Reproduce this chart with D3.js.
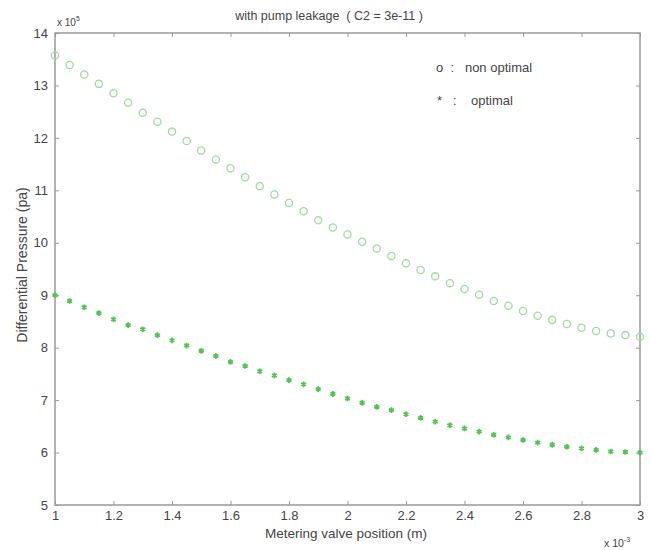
<!DOCTYPE html>
<html>
<head>
<meta charset="utf-8">
<script src="https://cdn.jsdelivr.net/npm/d3@7"></script>
<style>
  body { margin: 0; background: #fff; }
  svg text { font-family: "Liberation Sans", Arial, sans-serif; fill: #444; }
</style>
</head>
<body>
<svg id="chart" width="651" height="550"></svg>
<script>
// metering valve position, x 10^-3 m
const positions = d3.range(41).map((i) => 1 + i * 0.05);
// differential pressure, x 10^5 pa
const nonOptimal = [13.57, 13.39, 13.21, 13.03, 12.85, 12.67, 12.48, 12.31, 12.12, 11.94,
  11.76, 11.59, 11.42, 11.25, 11.08, 10.92, 10.76, 10.60, 10.43, 10.29,
  10.16, 10.02, 9.89, 9.75, 9.61, 9.48, 9.36, 9.23, 9.12, 9.01,
  8.89, 8.80, 8.70, 8.61, 8.53, 8.45, 8.38, 8.32, 8.27, 8.24, 8.21];
const optimal = [9.00, 8.89, 8.77, 8.66, 8.54, 8.43, 8.35, 8.24, 8.14, 8.04,
  7.94, 7.84, 7.73, 7.65, 7.55, 7.47, 7.38, 7.30, 7.21, 7.12,
  7.03, 6.95, 6.87, 6.81, 6.73, 6.66, 6.59, 6.52, 6.46, 6.40,
  6.34, 6.29, 6.24, 6.19, 6.15, 6.11, 6.08, 6.05, 6.02, 6.01, 6.00];
const xTicks = [1, 1.2, 1.4, 1.6, 1.8, 2, 2.2, 2.4, 2.6, 2.8, 3];
const yTicks = [5, 6, 7, 8, 9, 10, 11, 12, 13, 14];

const svg = d3.select('#chart');
const plot = { left: 55, right: 640, top: 33, bottom: 505 };
const x = d3.scaleLinear().domain([1, 3]).range([plot.left, plot.right]);
const y = d3.scaleLinear().domain([5, 14]).range([plot.bottom, plot.top]);
const axisColor = '#999';

const styleAxis = (g) => {
  g.select('.domain').remove();
  g.selectAll('.tick line').attr('stroke', axisColor);
  g.selectAll('.tick text').attr('font-size', 13).attr('fill', '#555');
};

svg.append('g').attr('transform', `translate(0,${plot.bottom})`)
  .call(d3.axisBottom(x).tickValues(xTicks).tickFormat(d3.format('~g')).tickSizeInner(-4).tickSizeOuter(0).tickPadding(6))
  .call(styleAxis);
svg.append('g').attr('transform', `translate(${plot.left},0)`)
  .call(d3.axisLeft(y).tickValues(yTicks).tickFormat(d3.format('~g')).tickSizeInner(-4).tickSizeOuter(0).tickPadding(7))
  .call(styleAxis);
svg.append('g').attr('transform', `translate(0,${plot.top})`)
  .call(d3.axisTop(x).tickValues(xTicks).tickFormat('').tickSizeInner(-4).tickSizeOuter(0))
  .call(styleAxis);
svg.append('g').attr('transform', `translate(${plot.right},0)`)
  .call(d3.axisRight(y).tickValues(yTicks).tickFormat('').tickSizeInner(-4).tickSizeOuter(0))
  .call(styleAxis);

svg.append('rect').attr('x', plot.left).attr('y', plot.top)
  .attr('width', plot.right - plot.left).attr('height', plot.bottom - plot.top)
  .attr('fill', 'none').attr('stroke', axisColor).attr('stroke-width', 1.5);

svg.append('g').selectAll('circle').data(nonOptimal).join('circle')
  .attr('cx', (d, i) => x(positions[i])).attr('cy', (d) => y(d)).attr('r', 3.6)
  .attr('fill', 'none').attr('stroke', '#a3d8a3').attr('stroke-width', 1.3);

const star = d3.symbol().type(d3.symbolAsterisk).size(22);
svg.append('g').selectAll('path').data(optimal).join('path')
  .attr('transform', (d, i) => `translate(${x(positions[i])},${y(d)})`)
  .attr('d', star).attr('fill', 'none').attr('stroke', '#52c452').attr('stroke-width', 1.8);

svg.append('text').attr('x', 329).attr('y', 20).attr('text-anchor', 'middle').attr('font-size', 12.5)
  .attr('xml:space', 'preserve').text('with pump leakage  ( C2 = 3e-11 )');

const exp = svg.append('text').attr('x', 57).attr('y', 26).attr('font-size', 10);
exp.append('tspan').text('x 10');
exp.append('tspan').attr('dy', -5).attr('font-size', 7).text('5');

const expX = svg.append('text').attr('x', 604).attr('y', 547).attr('font-size', 10.5);
expX.append('tspan').text('x 10');
expX.append('tspan').attr('dy', -5).attr('font-size', 7).text('-3');

svg.append('text').attr('x', 346).attr('y', 538).attr('text-anchor', 'middle').attr('font-size', 13.5)
  .text('Metering valve position (m)');
svg.append('text').attr('transform', 'translate(27,265) rotate(-90)').attr('text-anchor', 'middle').attr('font-size', 14)
  .text('Differential Pressure (pa)');

// legend
svg.append('text').attr('x', 436).attr('y', 72).attr('font-size', 13).attr('xml:space', 'preserve').text('o  :   non optimal');
svg.append('text').attr('x', 437).attr('y', 105).attr('font-size', 13).attr('xml:space', 'preserve').text('*   :    optimal');
</script>
</body>
</html>
